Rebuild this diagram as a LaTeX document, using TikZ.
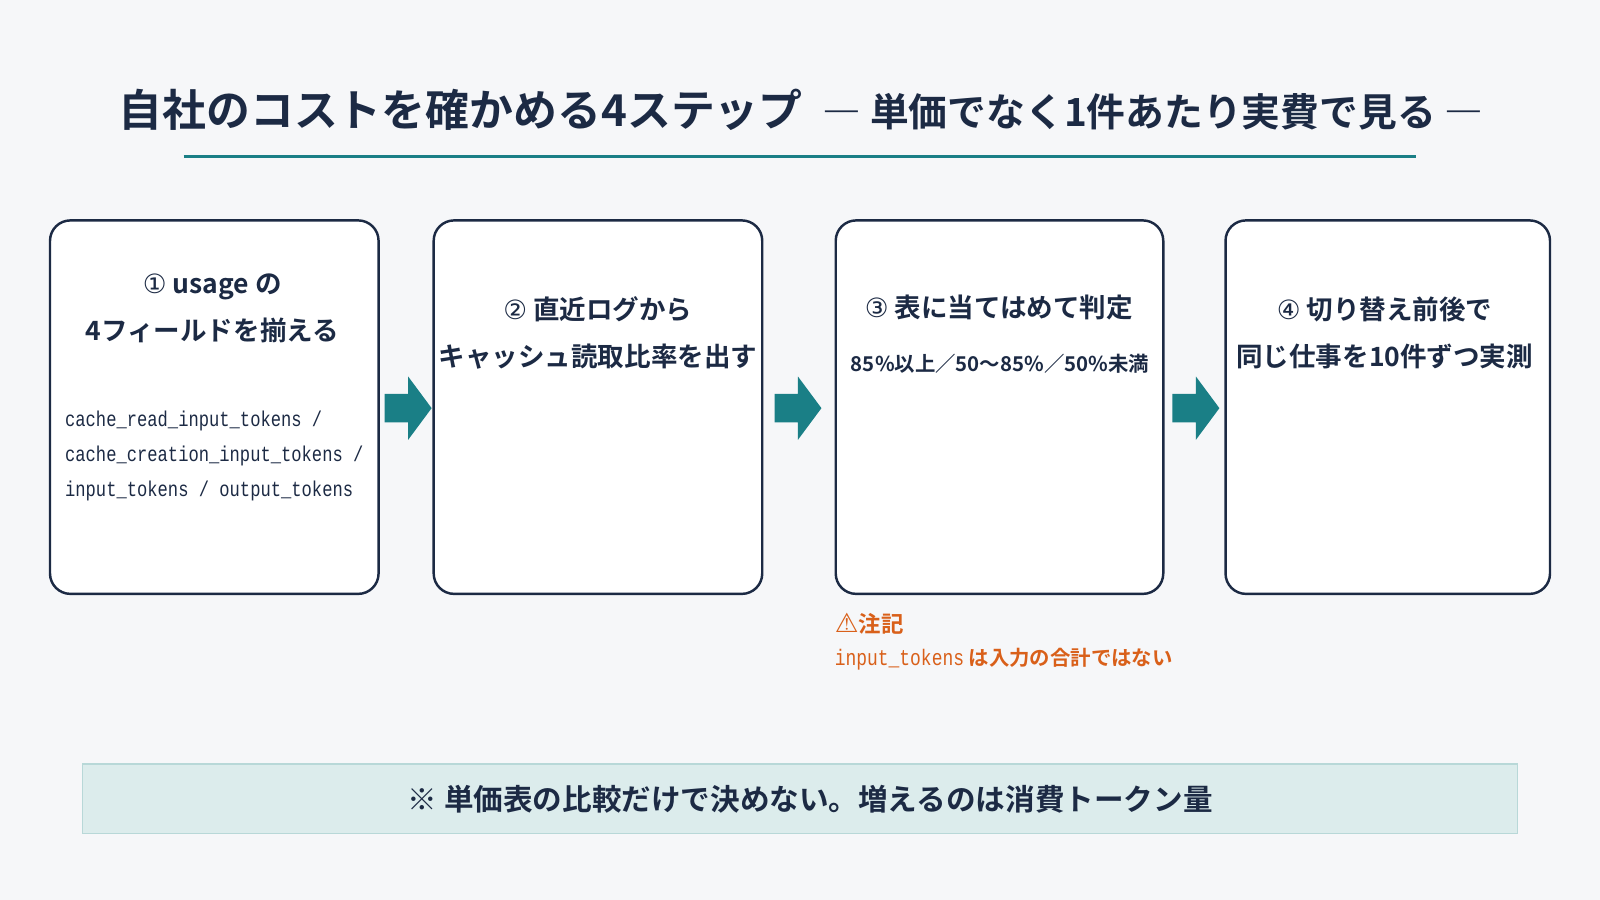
\documentclass[tikz,border=0pt]{standalone}
\usepackage{fontspec}
\setmainfont{Noto Sans CJK JP}[BoldFont={Noto Sans CJK JP Bold}]
\newfontfamily\cjk{Noto Sans CJK JP Bold}
\newfontfamily\codef{Liberation Mono}[FakeStretch=0.8]
\newfontfamily\dejavu{DejaVu Sans}
\definecolor{bg}{HTML}{F6F7F9}
\definecolor{navy}{HTML}{1C2A44}
\definecolor{teal}{HTML}{1A7F86}
\definecolor{bandfill}{HTML}{DCECEC}
\definecolor{bandline}{HTML}{B8D8D8}
\definecolor{warn}{HTML}{D9601A}
\begin{document}
\begin{tikzpicture}[x=0.5pt,y=-0.5pt,
  card/.style={draw=navy,line width=1.2pt,fill=white,rounded corners=10pt},
  steptxt/.style={text=navy,align=center,font=\cjk\fontsize{13}{23}\selectfont},
  code/.style={text=navy,align=left,font=\codef\fontsize{10.5}{17}\selectfont},
  arr/.style={fill=teal}]
\fill[bg] (0,0) rectangle (1568,882);
\useasboundingbox (0,0) rectangle (1568,882);
\node[text=navy,font=\cjk\fontsize{21.5}{26}\selectfont] (title) at (785,108) {自社のコストを確かめる4ステップ\ \ {\fontsize{19}{24}\selectfont ― 単価でなく1件あたり実費で見る ―}};
\draw[teal,line width=1.5pt] (180,153) coordinate (u1) -- (1388,153) coordinate (u2);
\draw[card] (49,216) rectangle (371,582);
\draw[card] (425,216) rectangle (747,582);
\draw[card] (819,216) rectangle (1140,582);
\draw[card] (1201,216) rectangle (1519,582);
\node[steptxt] (s1) at (208,302) {\dejavu①\cjk\ usage の\\4フィールドを揃える};
\node[code] (c1) at (210,447) {cache\_read\_input\_tokens /\\cache\_creation\_input\_tokens /\\input\_tokens / output\_tokens};
\node[steptxt] (s2) at (586,326) {\dejavu②\cjk\ 直近ログから\\キャッシュ読取比率を出す};
\node[steptxt] (s3) at (979,301) {\dejavu③\cjk\ 表に当てはめて判定};
\node[text=navy,font=\cjk\fontsize{10}{13}\selectfont] (s3b) at (980,356) {85\%以上／50〜85\%／50\%未満};
\node[steptxt] (s4) at (1357,326) {\dejavu④\cjk\ 切り替え前後で\\同じ仕事を10件ずつ実測};
\foreach \n/\cx in {a1/400,a2/782,a3/1172}{
  \coordinate (\n) at (\cx,400);
  \fill[arr] ([shift={(-23,-14)}]\n) -- ([shift={(0,-14)}]\n) -- ([shift={(0,-31)}]\n) -- ([shift={(23,0)}]\n) -- ([shift={(0,31)}]\n) -- ([shift={(0,14)}]\n) -- ([shift={(-23,14)}]\n) -- cycle;
}
\node[anchor=west,text=warn,font=\cjk\fontsize{11}{13}\selectfont] (n1) at (811,611) {{\dejavu\fontsize{13}{13}\selectfont ⚠}注記};
\node[anchor=west,text=warn,font=\cjk\fontsize{10}{13}\selectfont] (n2) at (811,646) {{\codef\fontsize{11}{13}\selectfont input\_tokens} は入力の合計ではない};
\draw[fill=bandfill,draw=bandline,line width=0.8pt] (81,749) rectangle (1487,817);
\node[text=navy,font=\cjk\fontsize{14.5}{18}\selectfont] (band) at (794,783) {※ 単価表の比較だけで決めない。増えるのは消費トークン量};
\end{tikzpicture}
\end{document}
